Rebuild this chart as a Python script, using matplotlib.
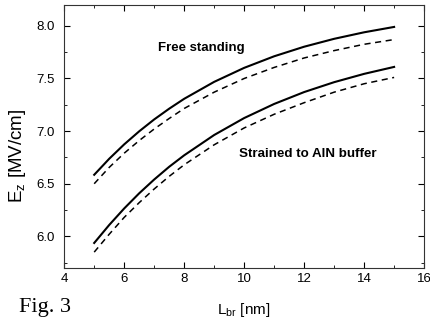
import numpy as np
import matplotlib
matplotlib.use("Agg")
import matplotlib.pyplot as plt
from matplotlib.ticker import MultipleLocator, FormatStrFormatter

plt.rcParams['font.family'] = ['Liberation Sans', 'DejaVu Sans']
plt.rcParams['mathtext.fontset'] = 'custom'
plt.rcParams['mathtext.rm'] = 'Liberation Sans'

# barrier width L_br [nm]
L_br = [5, 5.5, 6, 6.5, 7, 7.5, 8, 9, 10, 11, 12, 13, 14, 15]

# field E_z [MV/cm]
free_solid = [6.585, 6.737, 6.874, 6.998, 7.111, 7.213, 7.307, 7.468,
              7.601, 7.711, 7.802, 7.877, 7.939, 7.99]
free_dash = [6.50, 6.655, 6.79, 6.91, 7.02, 7.12, 7.215, 7.37,
             7.50, 7.605, 7.695, 7.765, 7.825, 7.87]
strained_solid = [5.937, 6.108, 6.265, 6.409, 6.540, 6.661, 6.770, 6.963,
                  7.124, 7.258, 7.371, 7.465, 7.544, 7.61]
strained_dash = [5.85, 6.02, 6.18, 6.32, 6.45, 6.57, 6.68, 6.87,
                 7.03, 7.16, 7.27, 7.37, 7.45, 7.51]

fig = plt.figure(figsize=(4.31, 3.22), dpi=100)
ax = fig.add_axes([0.149, 0.168, 0.835, 0.817])

ax.plot(L_br, free_solid, color='black', lw=1.5)
ax.plot(L_br, free_dash, color='black', lw=1.1, dashes=(4, 3))
ax.plot(L_br, strained_solid, color='black', lw=1.5)
ax.plot(L_br, strained_dash, color='black', lw=1.1, dashes=(4, 3))

ax.text(7.12, 7.79, 'Free standing', fontsize=9.5, fontweight='bold', va='center')
ax.text(9.83, 6.78, 'Strained to AlN buffer', fontsize=9.6, fontweight='bold', va='center')

ax.set_xlim(4, 16)
ax.set_ylim(5.70, 8.20)
ax.xaxis.set_major_locator(MultipleLocator(2))
ax.xaxis.set_minor_locator(MultipleLocator(1))
ax.yaxis.set_major_locator(MultipleLocator(0.5))
ax.yaxis.set_minor_locator(MultipleLocator(0.25))
ax.tick_params(which='both', direction='in', top=True, right=True, labelsize=9.5)
ax.tick_params(which='major', length=4)
ax.tick_params(which='minor', length=2.5)
ax.tick_params(axis='y', pad=7)
ax.yaxis.set_major_formatter(FormatStrFormatter('%.1f'))
for s in ax.spines.values():
    s.set_color('#333333')

ax.set_xlabel(r'L$_{\rm br}$ [nm]', fontsize=11, labelpad=12)
ax.set_ylabel(r'E$_{\rm z}$ [MV/cm]', fontsize=13.5)
ax.yaxis.set_label_coords(-0.101, 0.427)

fig.text(0.045, 0.045, 'Fig. 3', fontsize=16, family='Liberation Serif', va='center')

fig.savefig('out.png', dpi=100)
